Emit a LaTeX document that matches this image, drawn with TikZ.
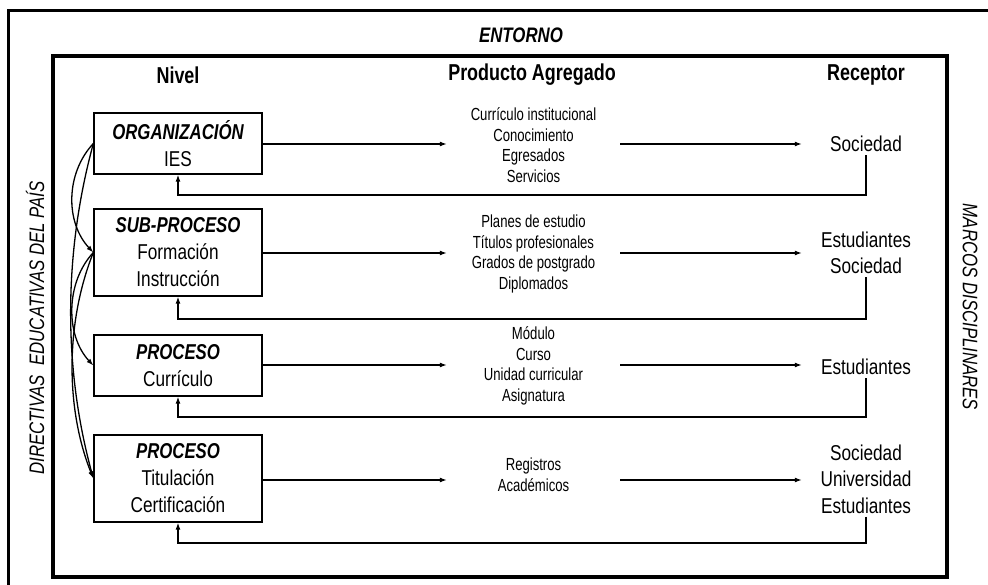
\documentclass[tikz,border=0pt]{standalone}
\usepackage{fontspec}
\setmainfont{Liberation Sans}
\newfontfamily\narf[FakeStretch=0.80]{Liberation Sans}
\newfontfamily\hedf[FakeStretch=0.78]{Liberation Sans}
\newfontfamily\midf[FakeStretch=0.75]{Liberation Sans}
\usetikzlibrary{arrows.meta}
\begin{document}
\begin{tikzpicture}[x=1pt,y=-1pt,
  lvl/.style={draw,line width=1.3pt,minimum width=168pt,inner sep=0pt,align=center,font=\narf\fontsize{21.5}{27}\selectfont},
  prod/.style={minimum width=173pt,inner sep=0pt,align=center,font=\midf\fontsize{17.5}{20.6}\selectfont},
  rec/.style={minimum width=128pt,inner xsep=0pt,inner ysep=3pt,align=center,font=\narf\fontsize{21.5}{26.5}\selectfont},
  hdr/.style={font=\hedf\bfseries\fontsize{23}{23}\selectfont},
  side/.style={font=\narf\itshape\fontsize{21}{21}\selectfont},
  arr/.style={line width=1.3pt,-{Latex[length=7pt,width=5pt]}},
  frame/.style={line width=3pt}]
\useasboundingbox (0,0) rectangle (988,585);
% frames
\draw[frame] (8,585) -- (8,11) -- (988,11);
\draw[line width=3.5pt] (53,56) rectangle (947,577);
% titles
\node[font=\narf\bfseries\itshape\fontsize{21}{21}\selectfont] (ent) at (521,35) {ENTORNO};
\node[side,rotate=90] (dir) at (35,328) {DIRECTIVAS\ \ EDUCATIVAS DEL PAÍS};
\node[side,rotate=-90] (mar) at (970,307) {MARCOS DISCIPLINARES};
\node[hdr] (hn) at (178,75) {Nivel};
\node[hdr] (hp) at (532,75) {Producto Agregado};
\node[hdr] (hr) at (866,75) {Receptor};
% level boxes
\node[lvl,minimum height=61pt] (b1) at (178,143.5) {{\hedf\bfseries\itshape ORGANIZACIÓN}\\IES};
\node[lvl,minimum height=87pt] (b2) at (178,252.5) {{\hedf\bfseries\itshape SUB-PROCESO}\\Formación\\Instrucción};
\node[lvl,minimum height=61pt] (b3) at (178,365.5) {{\hedf\bfseries\itshape PROCESO}\\Currículo};
\node[lvl,minimum height=87pt] (b4) at (178,478.5) {{\hedf\bfseries\itshape PROCESO}\\Titulación\\Certificación};
% products
\node[prod] (p1) at (533.5,145) {Currículo institucional\\Conocimiento\\Egresados\\Servicios};
\node[prod] (p2) at (533.5,254) {Planes de estudio\\Títulos profesionales\\Grados de postgrado\\Diplomados};
\node[prod] (p3) at (533.5,366) {Módulo\\Curso\\Unidad curricular\\Asignatura};
\node[prod] (p4) at (533.5,474.5) {Registros\\Académicos};
% receptors
\node[rec] (r1) at (866,144) {Sociedad};
\node[rec] (r2) at (866,253) {Estudiantes\\Sociedad};
\node[rec] (r3) at (866,367) {Estudiantes};
\node[rec] (r4) at (866,479) {Sociedad\\Universidad\\Estudiantes};
% forward arrows
\foreach \i/\y in {1/144,2/253,3/365,4/480}{
  \draw[arr] (b\i.east |- 0,\y) -- (p\i.west |- 0,\y);
  \draw[arr] (p\i.east |- 0,\y) -- (r\i.west |- 0,\y);
}
% feedback
\draw[arr] (r1.south) -- (r1.south |- 0,195) -| (b1.south);
\draw[arr] (r2.south) -- (r2.south |- 0,319) -| (b2.south);
\draw[arr] (r3.south) -- (r3.south |- 0,417) -| (b3.south);
\draw[arr] (r4.south) -- (r4.south |- 0,543) -| (b4.south);
% left curves
\draw[arr] (b1.west) .. controls +(-28,30) and +(-28,-30) .. (b2.west);
\draw[arr] (b1.west) .. controls +(-30,110) and +(-30,-110) .. (b4.west);
\draw[arr] (b2.west) .. controls +(-28,30) and +(-28,-30) .. (b3.west);
\draw[arr] (b2.west) .. controls +(-28,70) and +(-28,-70) .. (b4.west);
\end{tikzpicture}
\end{document}
